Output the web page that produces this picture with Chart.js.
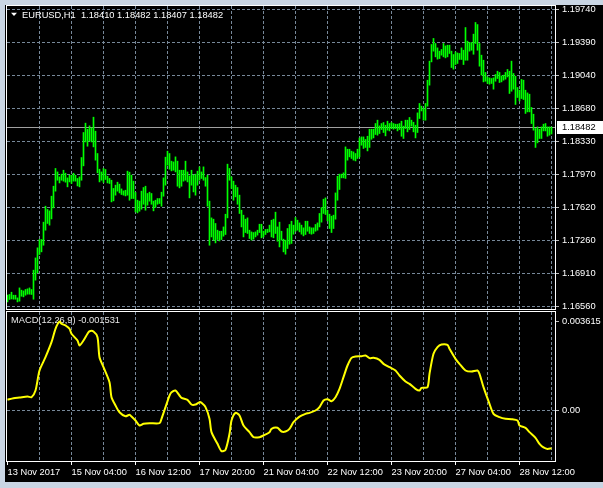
<!DOCTYPE html>
<html><head><meta charset="utf-8">
<script src="https://cdn.jsdelivr.net/npm/chart.js@4.4.1/dist/chart.umd.min.js"></script>
<style>
html,body{margin:0;padding:0;background:#c9d5e3;width:603px;height:488px;overflow:hidden;}
#frame{position:absolute;left:5px;top:5px;width:598px;height:477px;background:#000;}
#pc{position:absolute;left:0;top:0;}
#mc{position:absolute;left:0;top:311px;}
</style></head><body>
<div id="frame"></div>
<canvas id="pc" width="603" height="311"></canvas>
<canvas id="mc" width="603" height="177"></canvas>
<script>
// ---------- DATA ----------
const symbol = "EURUSD,H1";
const lastOpen = 1.18410;
const lastClose = 1.18482;
const highs = [
1.16681,1.16689,1.16713,1.16681,1.16681,1.16652,1.16759,1.16735,1.16727,1.16742,
1.16749,1.16759,1.16742,1.16949,1.17080,1.17188,1.17277,1.17277,1.17463,1.17634,
1.17599,1.17584,1.17741,1.17848,1.18038,1.18001,1.17948,1.17977,1.18019,1.17987,
1.17937,1.17966,1.17966,1.17987,1.17966,1.17931,1.17948,1.18155,1.18423,1.18523,
1.18458,1.18494,1.18472,1.18587,1.18437,1.18198,1.18030,1.18001,1.18038,1.18027,
1.17955,1.17931,1.17912,1.17824,1.17859,1.17891,1.17870,
1.17819,1.17798,1.17805,1.18009,1.17998,1.17966,1.17902,1.17781,1.17698,1.17688,
1.17795,1.17834,1.17848,1.17770,1.17784,1.17770,1.17688,1.17698,1.17716,1.17716,
1.17784,1.17937,1.18159,1.18223,1.18198,1.18116,1.18108,1.18162,1.18116,1.18019,
1.18019,1.18019,1.18116,1.18001,1.17958,1.18019,1.17966,1.17977,1.18009,1.18055,
1.18001,1.18055,1.17941,1.17966,1.17688,1.17509,1.17495,1.17449,1.17377,1.17366,
1.17366,1.17412,1.17548,1.18084,1.18038,1.17948,1.17902,1.17859,1.17834,1.17752,
1.17591,1.17538,1.17495,1.17509,1.17377,1.17359,1.17352,1.17359,1.17377,1.17441,
1.17441,1.17366,1.17385,1.17388,1.17431,1.17484,1.17495,1.17570,1.17412,1.17463,
1.17366,1.17281,1.17270,1.17395,1.17438,1.17473,1.17431,1.17513,1.17484,1.17455,
1.17431,1.17402,1.17473,1.17473,1.17412,1.17402,1.17402,1.17438,1.17455,1.17556,
1.17620,1.17709,1.17723,1.17591,1.17548,1.17527,1.17538,1.17776,1.17955,1.17977,
1.17977,1.17991,1.18269,1.18244,1.18244,1.18223,1.18215,1.18198,1.18244,1.18365,
1.18376,1.18376,1.18348,1.18383,1.18458,1.18458,1.18458,1.18519,1.18555,1.18494,
1.18519,1.18530,1.18501,1.18544,1.18519,1.18530,1.18519,1.18512,1.18512,1.18519,
1.18544,1.18491,1.18555,1.18555,1.18584,1.18555,1.18533,1.18501,1.18633,1.18734,
1.18705,1.18680,1.18734,1.18983,1.19187,1.19365,1.19430,1.19376,1.19329,1.19294,
1.19312,1.19376,1.19350,1.19358,1.19358,1.19294,1.19258,1.19286,1.19275,1.19269,
1.19329,1.19304,1.19547,1.19401,1.19387,1.19387,1.19476,1.19601,1.19579,1.19376,
1.19251,1.19197,1.19066,1.19018,1.19008,1.19001,1.19008,1.19044,1.19079,1.19066,
1.19029,1.19037,1.19066,1.19098,1.19079,1.19187,1.19055,1.19026,1.18905,1.18876,
1.18991,1.18983,1.18876,1.18847,1.18833,1.18691,1.18619,1.18466,1.18483,1.18458,
1.18483,1.18512,1.18519,1.18483,1.18483,1.18482
];
const lows = [
1.16609,1.16635,1.16641,1.16638,1.16638,1.16609,1.16617,1.16670,1.16663,1.16681,
1.16692,1.16692,1.16689,1.16638,1.16842,1.16920,1.17117,1.17145,1.17216,1.17377,
1.17449,1.17431,1.17498,1.17616,1.17795,1.17912,1.17883,1.17912,1.17902,1.17891,
1.17841,1.17894,1.17877,1.17902,1.17902,1.17851,1.17841,1.17912,1.18066,1.18322,
1.18276,1.18333,1.18322,1.18269,1.18127,1.17991,1.17894,1.17912,1.17888,1.17920,
1.17883,1.17877,1.17680,1.17691,1.17752,1.17795,1.17776,
1.17759,1.17752,1.17744,1.17752,1.17698,1.17716,1.17716,1.17573,1.17562,1.17580,
1.17602,1.17655,1.17591,1.17645,1.17688,1.17655,1.17584,1.17620,1.17655,1.17663,
1.17634,1.17741,1.17859,1.18073,1.18030,1.18012,1.18019,1.18001,1.17848,1.17830,
1.17848,1.17902,1.17912,1.17894,1.17723,1.17859,1.17787,1.17752,1.17859,1.17912,
1.17931,1.17912,1.17848,1.17634,1.17216,1.17305,1.17270,1.17241,1.17277,1.17262,
1.17277,1.17313,1.17331,1.17509,1.17912,1.17824,1.17698,1.17734,1.17655,1.17556,
1.17412,1.17305,1.17352,1.17342,1.17288,1.17270,1.17281,1.17305,1.17324,1.17352,
1.17295,1.17305,1.17331,1.17352,1.17359,1.17305,1.17295,1.17342,1.17259,1.17198,
1.17270,1.17145,1.17120,1.17181,1.17227,1.17235,1.17334,1.17366,1.17377,1.17359,
1.17334,1.17316,1.17331,1.17366,1.17342,1.17334,1.17342,1.17366,1.17377,1.17412,
1.17463,1.17556,1.17545,1.17477,1.17395,1.17352,1.17395,1.17495,1.17698,1.17813,
1.17937,1.17937,1.17931,1.18127,1.18162,1.18145,1.18127,1.18119,1.18145,1.18162,
1.18287,1.18252,1.18263,1.18226,1.18263,1.18351,1.18365,1.18402,1.18394,1.18412,
1.18455,1.18423,1.18387,1.18448,1.18440,1.18466,1.18458,1.18466,1.18440,1.18455,
1.18383,1.18359,1.18466,1.18430,1.18455,1.18491,1.18430,1.18365,1.18423,1.18573,
1.18654,1.18555,1.18555,1.18705,1.18930,1.19179,1.19294,1.19233,1.19208,1.19215,
1.19251,1.19233,1.19222,1.19233,1.19269,1.19119,1.19101,1.19151,1.19162,1.19205,
1.19205,1.19151,1.19197,1.19197,1.19294,1.19304,1.19261,1.19376,1.19304,1.19133,
1.19037,1.18965,1.18972,1.18948,1.18940,1.18948,1.18887,1.18972,1.19001,1.18958,
1.18965,1.18983,1.18994,1.19018,1.18841,1.18865,1.18887,1.18723,1.18798,1.18761,
1.18787,1.18776,1.18627,1.18644,1.18644,1.18519,1.18448,1.18263,1.18312,1.18359,
1.18359,1.18440,1.18440,1.18383,1.18394,1.18407
];
const macdBars = [
0,3,6,10,12,14,16,19,22,24,
26,27,29,31,32,35,36,38,40,41,
43,45,46,48,51,52,54,56,59,61,
62,64,66,68,71,76,77,79,81,82,
84,86,87,90,92,94,96,97,99,101,
102,105,107,109,111,112,114,116,118,121,
123,126,128,131,132,135,137,139,141,143,
146,149,151,154,156,158,160,162,164,166,
168,170,172,174,177,179,181,183,186,188,
191,194,196,199,201,204,206,207,210,211,
213,215,217,220,221,224,226,229,232,235,
236,238,241,243,246,249,252,255,256,259,
261,264,266,268,270,272
];
const macdValues = [
0.000435,0.000500,0.000528,0.000569,0.000540,0.000812,0.001625,0.002165,0.002774,0.003319,
0.003615,0.003522,0.003453,0.003319,0.003116,0.002843,0.002640,0.002843,0.003116,0.003221,
0.003209,0.002977,0.002165,0.001759,0.001150,0.000540,0.000203,-0.000069,-0.000232,-0.000175,
-0.000244,-0.000406,-0.000609,-0.000540,-0.000515,-0.000515,-0.000338,0.000135,0.000609,0.000744,
0.000812,0.000609,0.000514,0.000433,0.000244,0.000244,0.000338,0.000311,0.000135,-0.000338,
-0.000880,-0.001354,-0.001651,-0.001598,-0.000947,-0.000406,-0.000095,-0.000203,-0.000609,-0.000880,
-0.001083,-0.001083,-0.001016,-0.000880,-0.000744,-0.000704,-0.000853,-0.000853,-0.000744,-0.000474,
-0.000250,-0.000135,-0.000095,0.000000,0.000135,0.000406,0.000460,0.000379,0.000540,0.000880,
0.001354,0.001828,0.002140,0.002193,0.002206,0.002234,0.002126,0.002140,0.002058,0.001896,
0.001759,0.001625,0.001422,0.001178,0.001083,0.000880,0.000812,0.000920,0.000947,0.001490,
0.002302,0.002573,0.002681,0.002667,0.002505,0.002099,0.001896,0.001625,0.001584,0.001625,
0.001490,0.000947,0.000271,-0.000135,-0.000271,-0.000338,-0.000352,-0.000406,-0.000609,-0.000704,
-0.000880,-0.001110,-0.001354,-0.001500,-0.001560,-0.001531
];
const priceTickLabels = ["1.19740","1.19390","1.19040","1.18680","1.18330","1.17970","1.17620","1.17260","1.16910","1.16560"];
const macdTickValues = [0.003615, 0];
const macdTickLabels = ["0.003615","0.00"];
const timeLabelBars = [0,32,64,96,128,160,192,224,256];
const timeLabels = ["13 Nov 2017","15 Nov 04:00","16 Nov 12:00","17 Nov 20:00","21 Nov 04:00","22 Nov 12:00","23 Nov 20:00","27 Nov 04:00","28 Nov 12:00"];

// ---------- SETUP ----------
const FONT = "'Liberation Sans', Arial, sans-serif";
const FSIZE = 9.3;
Chart.defaults.font.family = FONT;
Chart.defaults.font.size = FSIZE;
Chart.defaults.color = '#ffffff';
const GRID = '#778899';
const DASH = [3,2];
const nBars = highs.length;
const xMin = -0.25, xMax = 273.75;
const gridBars = []; for (let b = 16; b < nBars; b += 16) gridBars.push(b);
const gridBarsB = [0].concat(gridBars);

const pTop = parseFloat(priceTickLabels[0]);
const pBot = parseFloat(priceTickLabels[priceTickLabels.length-1]);
const pStep = (pTop - pBot) / (priceTickLabels.length - 1);
const pTickValues = priceTickLabels.map((_, j) => pTop - j * pStep);
const pPx = pStep / 33;
const pMax = pTop + 3.5 * pPx, pMin = pBot - 2.5 * pPx;
const mPx = macdTickValues[0] / 89;
const mMax = macdTickValues[0] + 9.5 * mPx, mMin = -50.5 * mPx;

function frame(chart) {
  const a = chart.chartArea, c = chart.ctx;
  c.save(); c.strokeStyle = '#ffffff'; c.lineWidth = 1; c.setLineDash([]);
  c.strokeRect(a.left - 0.5, a.top - 0.5, a.right - a.left + 1, a.bottom - a.top + 1);
  c.restore();
}

const pricePlugin = {
  id: 'pricePlugin',
  beforeDatasetsDraw(chart) {
    const c = chart.ctx, a = chart.chartArea;
    const y = Math.round(chart.scales.y.getPixelForValue(lastClose)) + 0.5;
    c.save(); c.strokeStyle = '#a0a0a0'; c.lineWidth = 1;
    c.beginPath(); c.moveTo(a.left, y); c.lineTo(a.right, y); c.stroke(); c.restore();
  },
  afterDraw(chart) {
    frame(chart);
    const c = chart.ctx, a = chart.chartArea;
    c.save();
    c.font = FSIZE + 'px ' + FONT; c.textBaseline = 'middle';
    c.fillStyle = '#ffffff';
    c.beginPath(); c.moveTo(11, 12.7); c.lineTo(17, 12.7); c.lineTo(14, 16); c.closePath(); c.fill();
    const last = nBars - 1;
    c.fillText(symbol + '  ' + lastOpen.toFixed(5) + ' ' + highs[last].toFixed(5) + ' ' + lows[last].toFixed(5) + ' ' + lastClose.toFixed(5), 22, 15);
    const y = Math.round(chart.scales.y.getPixelForValue(lastClose));
    c.fillStyle = '#ffffff'; c.fillRect(a.right + 2, y - 6, 603 - a.right - 2, 13);
    c.fillStyle = '#000000'; c.fillText(lastClose.toFixed(5), a.right + 7, y + 0.5);
    c.restore();
  }
};

new Chart(document.getElementById('pc'), {
  type: 'bar',
  data: { datasets: [{
    data: highs.map((h, i) => ({ x: i, y: [lows[i], h] })),
    backgroundColor: '#00ff00', borderWidth: 0, barThickness: 1, grouped: false
  }]},
  options: {
    responsive: false, animation: false, devicePixelRatio: 1, events: [],
    layout: { padding: { left: 7, top: 6, right: 0, bottom: 2 } },
    plugins: { legend: { display: false }, tooltip: { enabled: false } },
    scales: {
      x: {
        type: 'linear', min: xMin, max: xMax, offset: false, bounds: 'data',
        afterBuildTicks: s => { s.ticks = gridBars.map(v => ({ value: v })); },
        afterFit: s => { s.height = 0; s.paddingLeft = 0; s.paddingRight = 0; },
        ticks: { display: false },
        grid: { color: GRID, offset: false, drawTicks: false, borderDash: DASH },
        border: { display: false, dash: DASH }
      },
      y: {
        position: 'right', min: pMin, max: pMax, bounds: 'data',
        afterBuildTicks: s => { s.ticks = pTickValues.map(v => ({ value: v })); },
        afterFit: s => { s.width = 48; s.paddingTop = 0; s.paddingBottom = 0; },
        ticks: { autoSkip: false, padding: 3, color: '#ffffff', callback: (v, i) => priceTickLabels[i] },
        grid: { color: GRID, tickColor: '#c0c0c0', tickLength: 4, drawTicks: true, borderDash: DASH },
        border: { display: false, dash: DASH }
      }
    }
  },
  plugins: [pricePlugin]
});

const macdPlugin = {
  id: 'macdPlugin',
  beforeDatasetsDraw(chart) {
    const c = chart.ctx;
    c.save(); c.font = FSIZE + 'px ' + FONT; c.textBaseline = 'middle'; c.fillStyle = '#e8e8e8';
    c.fillText('MACD(12,26,9) ' + macdValues[macdValues.length - 1].toFixed(6), 11, 9.7);
    c.restore();
  },
  afterDraw(chart) { frame(chart); }
};

new Chart(document.getElementById('mc'), {
  type: 'line',
  data: { datasets: [{
    data: macdBars.map((b, i) => ({ x: b, y: macdValues[i] })),
    borderColor: '#ffff00', borderWidth: 2, pointRadius: 0, tension: 0.25, fill: false
  }]},
  options: {
    responsive: false, animation: false, devicePixelRatio: 1, events: [],
    layout: { padding: { left: 7, top: 1, right: 0, bottom: 0 } },
    plugins: { legend: { display: false }, tooltip: { enabled: false } },
    scales: {
      x: {
        type: 'linear', min: xMin, max: xMax, offset: false, bounds: 'data',
        afterBuildTicks: s => { s.ticks = gridBarsB.map(v => ({ value: v })); },
        afterFit: s => { s.height = 27; s.paddingLeft = 0; s.paddingRight = 0; },
        ticks: {
          autoSkip: false, maxRotation: 0, minRotation: 0, align: 'start', padding: 2, color: '#ffffff',
          callback: v => { const j = timeLabelBars.indexOf(v); return j >= 0 ? timeLabels[j] : ''; }
        },
        grid: {
          color: ctx => (ctx.tick && ctx.tick.value === 0) ? 'rgba(0,0,0,0)' : GRID,
          tickColor: ctx => (ctx.tick && timeLabelBars.indexOf(ctx.tick.value) >= 0) ? '#ffffff' : 'rgba(0,0,0,0)',
          tickLength: 4, drawTicks: true, offset: false, borderDash: DASH
        },
        border: { display: false, dash: DASH }
      },
      y: {
        position: 'right', min: mMin, max: mMax, bounds: 'data',
        afterBuildTicks: s => { s.ticks = macdTickValues.map(v => ({ value: v })); },
        afterFit: s => { s.width = 48; s.paddingTop = 0; s.paddingBottom = 0; },
        ticks: { autoSkip: false, padding: 3, color: '#ffffff', callback: (v, i) => macdTickLabels[i] },
        grid: {
          color: ctx => (ctx.tick && ctx.tick.value === 0) ? GRID : 'rgba(0,0,0,0)',
          tickColor: '#c0c0c0', tickLength: 4, drawTicks: true, borderDash: DASH
        },
        border: { display: false, dash: DASH }
      }
    }
  },
  plugins: [macdPlugin]
});
</script></body></html>
